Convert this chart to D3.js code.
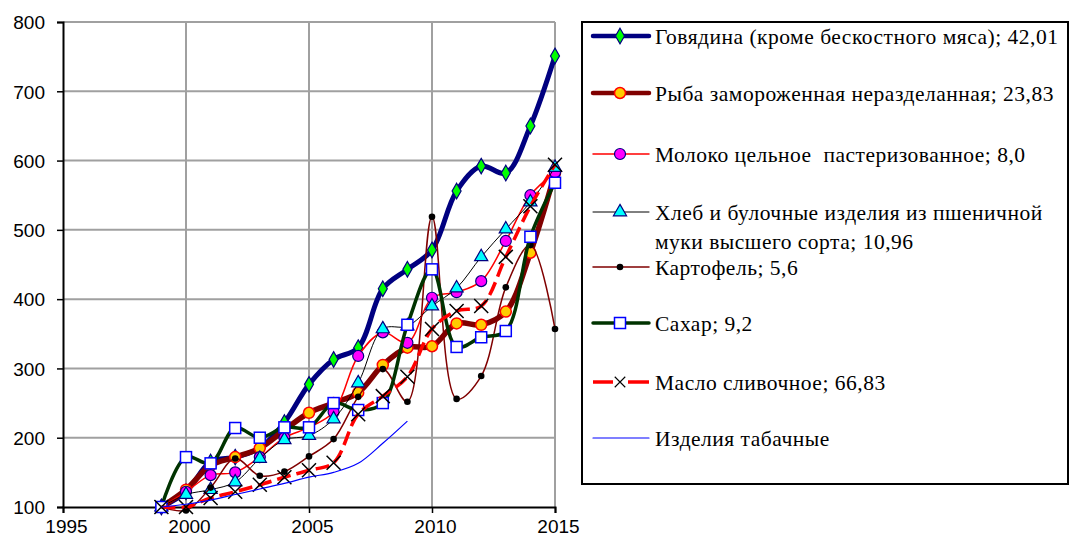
<!DOCTYPE html>
<html>
<head>
<meta charset="utf-8">
<script src="https://cdn.jsdelivr.net/npm/d3@7"></script>
<style>
  body { margin: 0; background: #fff; }
  svg { display: block; }
</style>
</head>
<body>
<div id="chart"></div>
<script>
// years on the x axis
const years = [1999, 2000, 2001, 2002, 2003, 2004, 2005, 2006, 2007, 2008, 2009, 2010, 2011, 2012, 2013, 2014, 2015]

// series values (1999 = 100)
const beef    = [100, 122, 165, 172, 185, 222, 277, 313, 330, 415, 443, 471, 556, 592, 582, 650, 751]
const fish    = [100, 125, 160, 172, 185, 211, 236, 250, 265, 305, 330, 332, 365, 363, 382, 467, 582]
const milk    = [100, 122, 146, 150, 172, 200, 215, 237, 318, 352, 337, 402, 410, 426, 484, 550, 583]
const bread   = [100, 118, 125, 136, 170, 197, 203, 227, 279, 357, 361, 390, 416, 461, 501, 540, 590]
const potato  = [100, 95, 128, 170, 145, 151, 173, 198, 259, 299, 252, 519, 256, 289, 417, 478, 357]
const sugar   = [100, 172, 163, 214, 200, 215, 215, 250, 240, 250, 363, 443, 331, 345, 354, 490, 568]
const butter  = [100, 100, 113, 122, 132, 143, 153, 164, 234, 260, 288, 357, 383, 390, 461, 534, 594]
const tobacco = [100, 104, 110, 118, 126, 134, 143, 150, 163, 192, 224, null, null, null, null, null, null]

const seriesNames = [
  'Говядина (кроме бескостного мяса); 42,01',
  'Рыба замороженная неразделанная; 23,83',
  'Молоко цельное  пастеризованное; 8,0',
  'Хлеб и булочные изделия из пшеничной|муки высшего сорта; 10,96',
  'Картофель; 5,6',
  'Сахар; 9,2',
  'Масло сливочное; 66,83',
  'Изделия табачные',
]

const xTicks = [1995, 2000, 2005, 2010, 2015]
const yTicks = [100, 200, 300, 400, 500, 600, 700, 800]

// styles for each series, same order as names
const styles = [
  { values: beef,    color: '#000080', width: 5,   marker: 'diamond' },
  { values: fish,    color: '#800000', width: 5.5, marker: 'fishCircle' },
  { values: milk,    color: '#ff0000', width: 1.5, marker: 'milkCircle' },
  { values: bread,   color: '#000000', width: 1,   marker: 'triangle' },
  { values: potato,  color: '#800000', width: 1.5, marker: 'dot' },
  { values: sugar,   color: '#003300', width: 3.5, marker: 'square' },
  { values: butter,  color: '#ff0000', width: 3.5, marker: 'cross', dash: '14,6' },
  { values: tobacco, color: '#0000ff', width: 1.2, marker: null },
]

const W = 1070, H = 543
const margin = { top: 22, left: 63, right: 515, bottom: 36 }
const plotW = W - margin.left - margin.right
const plotH = H - margin.top - margin.bottom

const svg = d3.select('#chart').append('svg')
  .attr('width', W)
  .attr('height', H)

const x = d3.scaleLinear().domain([1995, 2015]).range([margin.left, margin.left + plotW])
const y = d3.scaleLinear().domain([100, 800]).range([margin.top + plotH, margin.top])

// grid
const grid = svg.append('g').attr('stroke', '#a0a0a0').attr('stroke-width', 2)
grid.selectAll('line.h').data(yTicks.slice(1)).enter().append('line')
  .attr('x1', margin.left).attr('x2', margin.left + plotW)
  .attr('y1', d => y(d)).attr('y2', d => y(d))
grid.selectAll('line.v').data(xTicks.slice(1)).enter().append('line')
  .attr('y1', margin.top).attr('y2', margin.top + plotH)
  .attr('x1', d => x(d)).attr('x2', d => x(d))

// axes
const yAxis = svg.append('g')
  .attr('transform', `translate(${margin.left},0)`)
  .call(d3.axisLeft(y).tickValues(yTicks).tickSize(6).tickPadding(12).tickFormat(d3.format('d')))
const xAxis = svg.append('g')
  .attr('transform', `translate(0,${margin.top + plotH})`)
  .call(d3.axisBottom(x).tickValues(xTicks).tickSize(6).tickPadding(7).tickFormat(d3.format('d')))
for (const ax of [yAxis, xAxis]) {
  ax.select('.domain').attr('stroke', '#000').attr('stroke-width', 2)
  ax.selectAll('.tick line').attr('stroke', '#000').attr('stroke-width', 1.5)
  ax.selectAll('.tick text').attr('fill', '#000')
    .style('font-family', '"Liberation Sans", Arial, sans-serif').style('font-size', '19px')
}
yAxis.selectAll('.tick text').attr('dy', '0.36em')
xAxis.selectAll('.tick text').attr('dx', '3px')

const line = d3.line()
  .defined(d => d.v !== null)
  .x(d => x(d.year))
  .y(d => y(d.v))
  .curve(d3.curveCatmullRom.alpha(0.5))

function drawMarker(g, type) {
  if (type === 'diamond') {
    g.append('path').attr('d', d3.symbol(d3.symbolDiamond, 70)())
      .attr('fill', '#00ff00').attr('stroke', '#000080').attr('stroke-width', 1.2)
  } else if (type === 'fishCircle') {
    g.append('circle').attr('r', 5.5).attr('fill', '#ffcc00').attr('stroke', '#ff0000').attr('stroke-width', 1.5)
  } else if (type === 'milkCircle') {
    g.append('circle').attr('r', 5.5).attr('fill', '#ff00ff').attr('stroke', '#000080').attr('stroke-width', 1.2)
  } else if (type === 'triangle') {
    g.append('path').attr('d', d3.symbol(d3.symbolTriangle, 75)())
      .attr('fill', '#00ffff').attr('stroke', '#000080').attr('stroke-width', 1.2)
  } else if (type === 'dot') {
    g.append('circle').attr('r', 3.3).attr('fill', '#000')
  } else if (type === 'square') {
    g.append('rect').attr('x', -5.5).attr('y', -5.5).attr('width', 11).attr('height', 11)
      .attr('fill', '#fff').attr('stroke', '#0000ff').attr('stroke-width', 1.5)
  } else if (type === 'cross') {
    g.append('path').attr('d', 'M-7,-7L7,7M-7,7L7,-7')
      .attr('stroke', '#000').attr('stroke-width', 1.5).attr('fill', 'none')
  }
}

// series
const plot = svg.append('g')
styles.forEach(function (s) {
  const pts = years.map((yr, i) => ({ year: yr, v: s.values[i] }))
  plot.append('path')
    .datum(pts)
    .attr('d', line)
    .attr('fill', 'none')
    .attr('stroke', s.color)
    .attr('stroke-width', s.width)
    .attr('stroke-dasharray', s.dash || null)
    .attr('stroke-linejoin', 'round')
  if (s.marker) {
    plot.append('g').selectAll('g')
      .data(pts.filter(p => p.v !== null))
      .enter().append('g')
      .attr('transform', d => `translate(${x(d.year)},${y(d.v)})`)
      .each(function () { drawMarker(d3.select(this), s.marker) })
  }
})

// legend
const legend = svg.append('g')
legend.append('rect')
  .attr('x', 582).attr('y', 22).attr('width', 486).attr('height', 462)
  .attr('fill', '#fff').attr('stroke', '#000').attr('stroke-width', 2)
const rowY = [36, 93, 154, 212, 267, 323, 382, 438]
seriesNames.forEach(function (name, i) {
  const s = styles[i]
  const g = legend.append('g').attr('transform', `translate(0,${rowY[i]})`)
  if (s.dash) {
    g.append('line').attr('x1', 593).attr('x2', 613).attr('stroke', s.color).attr('stroke-width', s.width)
    g.append('line').attr('x1', 628).attr('x2', 649).attr('stroke', s.color).attr('stroke-width', s.width)
  } else {
    g.append('line').attr('x1', 593).attr('x2', 649).attr('stroke', s.color)
      .attr('stroke-width', Math.min(s.width, 4.5)).attr('stroke-linecap', 'round')
  }
  if (s.marker) {
    const m = g.append('g').attr('transform', 'translate(620,0)')
    drawMarker(m, s.marker)
    if (s.marker === 'cross') m.attr('transform', 'translate(620,0) scale(0.75)')
  }
  const lines = name.split('|')
  lines.forEach(function (t, j) {
    g.append('text')
      .attr('x', 655).attr('y', j * 29)
      .attr('dy', '0.36em')
      .style('font-family', '"Liberation Serif", "Times New Roman", serif')
      .style('font-size', '21.5px')
      .style('letter-spacing', '0.5px')
      .style('white-space', 'pre')
      .attr('fill', '#000')
      .text(t)
  })
})
</script>
</body>
</html>
